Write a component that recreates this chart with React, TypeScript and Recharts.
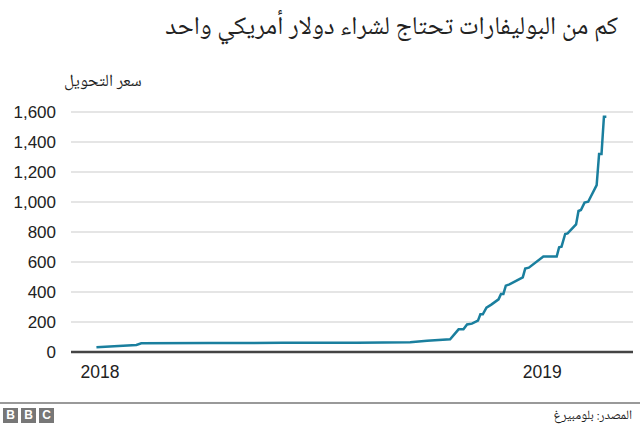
// Bolivar per US dollar exchange rate, BBC Arabic style line chart
import { LineChart, Line, XAxis, YAxis, CartesianGrid, ReferenceLine } from "recharts";

const dates = [
  "2017-12-29", "2018-01-20", "2018-01-31", "2018-02-04", "2018-04-01", "2018-06-01",
  "2018-08-01", "2018-09-14", "2018-09-28", "2018-10-17", "2018-10-24", "2018-10-28",
  "2018-10-31", "2018-11-04", "2018-11-09", "2018-11-11", "2018-11-13", "2018-11-16",
  "2018-11-20", "2018-11-26", "2018-11-28", "2018-11-30", "2018-12-02", "2018-12-05",
  "2018-12-16", "2018-12-18", "2018-12-21", "2019-01-02", "2019-01-13", "2019-01-15",
  "2019-01-17", "2019-01-20", "2019-01-22", "2019-01-29", "2019-01-31", "2019-02-02",
  "2019-02-05", "2019-02-08", "2019-02-15", "2019-02-17", "2019-02-19", "2019-02-21",
  "2019-02-23",
];

const rates = [
  31, 42, 47, 58, 60, 61,
  62, 65, 75, 85, 151, 151,
  184, 189, 209, 251, 251, 296,
  316, 351, 387, 387, 442, 451,
  498, 556, 562, 636, 636, 698,
  702, 787, 791, 851, 940, 947,
  996, 1002, 1113, 1320, 1320, 1569,
  1569,
];

const yTicks = [0, 200, 400, 600, 800, 1000, 1200, 1400, 1600];
const yearTicks = ["2018-01-01", "2019-01-01"];

const TITLE = "كم من البوليفارات تحتاج لشراء دولار أمريكي واحد";
const Y_LABEL = "سعر التحويل";
const SOURCE = "المصدر: بلومبيرغ";

const BASE = Date.UTC(2018, 0, 1);
const toDay = (d: string) => {
  const [y, m, day] = d.split("-").map(Number);
  return (Date.UTC(y, m - 1, day) - BASE) / 864e5;
};

const data = dates.map((d, i) => ({ day: toDay(d), rate: rates[i] }));
const xTicks = yearTicks.map(toDay);

const ARABIC_FONT = "'Noto Naskh Arabic', 'Noto Sans Arabic', 'DejaVu Sans', sans-serif";
const NUM_FONT = "'Liberation Sans', Arial, sans-serif";

export default function App() {
  return (
    <div
      style={{
        position: "absolute",
        left: 0,
        top: 0,
        width: 640,
        height: 426,
        background: "#fff",
        overflow: "hidden",
      }}
    >
      <div
        style={{
          position: "absolute",
          right: 22,
          top: 7,
          direction: "rtl",
          fontFamily: ARABIC_FONT,
          fontSize: 25.5,
          color: "#222",
          whiteSpace: "nowrap",
        }}
      >
        {TITLE}
      </div>
      <div
        style={{
          position: "absolute",
          left: 64,
          top: 68,
          direction: "rtl",
          fontFamily: ARABIC_FONT,
          fontSize: 17,
          color: "#222",
          whiteSpace: "nowrap",
        }}
      >
        {Y_LABEL}
      </div>

      <LineChart
        width={640}
        height={426}
        data={data}
        margin={{ top: 112, right: 7, left: 0, bottom: 44 }}
        style={{ position: "absolute", left: 0, top: 0 }}
      >
        <CartesianGrid vertical={false} stroke="#dcdcdc" strokeWidth={1.5} />
        <XAxis
          type="number"
          dataKey="day"
          domain={[-24, 440]}
          ticks={xTicks}
          tickFormatter={(v: number) => String(new Date(BASE + v * 864e5).getUTCFullYear())}
          axisLine={false}
          tickLine={false}
          tickSize={0}
          tickMargin={14}
          height={30}
          tick={{ fontSize: 17.5, fill: "#222", fontFamily: NUM_FONT }}
        />
        <YAxis
          domain={[0, 1600]}
          ticks={yTicks}
          width={71}
          axisLine={false}
          tickLine={false}
          tickSize={0}
          tickMargin={15}
          tickFormatter={(v: number) => v.toLocaleString("en-US")}
          tick={{ fontSize: 17, fill: "#222", fontFamily: NUM_FONT }}
        />
        <ReferenceLine y={0} stroke="#444" strokeWidth={2.5} />
        <Line
          type="linear"
          dataKey="rate"
          stroke="#1a7f9e"
          strokeWidth={2.5}
          dot={false}
          isAnimationActive={false}
        />
      </LineChart>

      <div style={{ position: "absolute", left: 0, top: 402, width: 640, height: 2, background: "#999" }} />
      <div style={{ position: "absolute", left: 3, top: 408, display: "flex", gap: 3 }}>
        {["B", "B", "C"].map((ch, i) => (
          <div
            key={i}
            style={{
              width: 15,
              height: 15,
              background: "#777",
              color: "#fff",
              fontFamily: NUM_FONT,
              fontWeight: "bold",
              fontSize: 12,
              lineHeight: "15px",
              textAlign: "center",
            }}
          >
            {ch}
          </div>
        ))}
      </div>
      <div
        style={{
          position: "absolute",
          right: 8,
          top: 405,
          direction: "rtl",
          fontFamily: ARABIC_FONT,
          fontSize: 13,
          color: "#222",
          whiteSpace: "nowrap",
        }}
      >
        {SOURCE}
      </div>
    </div>
  );
}
